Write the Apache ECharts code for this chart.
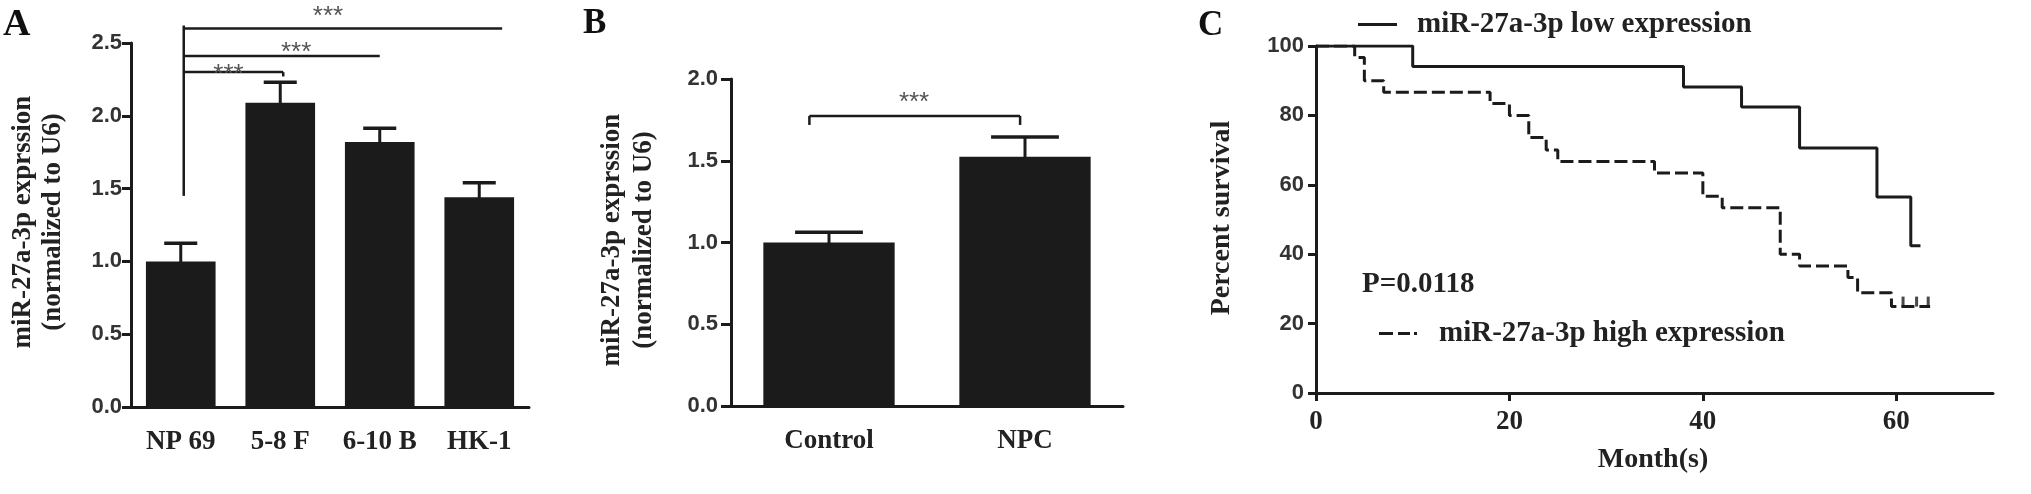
<!DOCTYPE html>
<html>
<head>
<meta charset="utf-8">
<title>miR-27a-3p expression and survival</title>
<script src="https://cdn.jsdelivr.net/npm/echarts@6.0.0/dist/echarts.min.js"></script>
<style>
  html, body { margin: 0; padding: 0; background: #fff; }
  #chart { width: 2031px; height: 494px; }
</style>
</head>
<body>
<div id="chart"></div>
<script>
// ---------- A: cell lines ----------
const cellLines = ['NP 69', '5-8 F', '6-10 B', 'HK-1']
const cellExpr = [1.0, 2.09, 1.82, 1.44]
const cellErr = [0.125, 0.14, 0.095, 0.10]
const cellTicks = [0, 0.5, 1.0, 1.5, 2.0, 2.5]
// significance brackets (x in category units, y in axis units)
const sigStart = 0.03
const sigStem = [1.45, 2.62]
const sigEnd = [1.03, 2.0, 3.23]
const sigLevel = [2.30, 2.41, 2.60]
const sigLabelX = [0.48, 1.16, 1.48]
const sigLabelY = [2.315, 2.466, 2.713]

// ---------- B: tissues ----------
const tissueGroups = ['Control', 'NPC']
const tissueExpr = [1.0, 1.525]
const tissueErr = [0.062, 0.12]
const tissueTicks = [0, 0.5, 1.0, 1.5, 2.0]
const tissueSig = [-0.1, 0.975, 1.774]   // from, to, level
const tissueSigLabel = [0.434, 1.884]

// ---------- C: survival ----------
const lowMonths = [0, 10, 38, 44, 50, 58, 61.5, 62.5]
const lowSurvival = [100, 94.1, 88.2, 82.4, 70.6, 56.5, 42.4, 42.4]
const highMonths = [0, 4, 5, 7, 18, 20, 22, 23.8, 25, 35, 40, 42, 48, 50, 55, 56, 59.5, 63.5]
const highSurvival = [100, 96.7, 90.0, 86.7, 83.4, 80.0, 73.6, 70.0, 66.7, 63.4, 56.7, 53.4, 40.0, 36.6, 33.3, 28.9, 24.9, 24.9]
const highCensorMonths = [60.7, 62.1, 63.3]
const monthTicks = [0, 20, 40, 60]
const survivalTicks = [0, 20, 40, 60, 80, 100]

const INK = '#1b1b1b'
const SERIF = '"Liberation Serif", "Times New Roman", serif'
const SANS = '"Liberation Sans", Arial, sans-serif'

const chartInstance = echarts.init(document.getElementById('chart'))

// x pixel for a fractional category position
const catX = (api, frac) => {
  const a = api.coord([0, 0])[0]
  const b = api.coord([1, 0])[0]
  return a + (b - a) * frac
}

const lineEl = (x1, y1, x2, y2, w) => ({
  type: 'line',
  shape: { x1, y1, x2, y2 },
  style: { stroke: INK, lineWidth: w || 3 }
})

const starsEl = (x, y) => ({
  type: 'text',
  style: {
    text: '***', x, y: y + 5, align: 'center', verticalAlign: 'middle',
    fill: '#555', font: '26px ' + SANS
  }
})

// error bars (only the upper half)
const errorBarSeries = (xIdx, yIdx, vals, errs, capRatio) => ({
  type: 'custom',
  xAxisIndex: xIdx,
  yAxisIndex: yIdx,
  z: 5,
  data: vals.map((v, i) => [i, v, errs[i]]),
  encode: { x: 0, y: 1 },
  renderItem: (params, api) => {
    const i = api.value(0)
    const v = api.value(1)
    const e = api.value(2)
    const base = api.coord([i, v])
    const top = api.coord([i, v + e])
    const half = api.size([1, 0])[0] * capRatio
    return {
      type: 'group',
      children: [
        lineEl(base[0], base[1] + 4, top[0], top[1]),
        lineEl(top[0] - half, top[1], top[0] + half, top[1], 3.5)
      ]
    }
  }
})

const axisLine = { show: true, lineStyle: { color: INK, width: 3 } }
const legendText = (pad) => ({
  color: '#222', fontFamily: SERIF, fontWeight: 'bold', fontSize: 29, padding: [0, 0, 0, pad]
})

const option = {
  animation: false,
  backgroundColor: '#fff',
  grid: [
    { left: 131, top: 43, width: 398, height: 364 },
    { left: 731, top: 79, width: 392, height: 327 },
    { left: 1316, top: 46, width: 677, height: 347 }
  ],
  xAxis: [
    {
      gridIndex: 0, type: 'category', data: cellLines,
      axisLine, axisTick: { alignWithLabel: true, length: 8, lineStyle: { color: INK, width: 3 } },
      axisLabel: { margin: 22, color: '#222', fontFamily: SERIF, fontWeight: 'bold', fontSize: 27 }
    },
    {
      gridIndex: 1, type: 'category', data: tissueGroups,
      axisLine, axisTick: { alignWithLabel: true, length: 8, lineStyle: { color: INK, width: 3 } },
      axisLabel: { margin: 22, color: '#222', fontFamily: SERIF, fontWeight: 'bold', fontSize: 27 }
    },
    {
      gridIndex: 2, type: 'value', min: 0, max: 70,
      axisLine, splitLine: { show: false },
      axisTick: { customValues: monthTicks, length: 8, lineStyle: { color: INK, width: 3 } },
      axisLabel: { customValues: monthTicks, margin: 16, color: '#222', fontFamily: SERIF, fontWeight: 'bold', fontSize: 27 }
    }
  ],
  yAxis: [
    {
      gridIndex: 0, type: 'value',
      min: cellTicks[0], max: cellTicks[cellTicks.length - 1], interval: cellTicks[1] - cellTicks[0],
      axisLine, splitLine: { show: false },
      axisTick: { show: true, length: 9, lineStyle: { color: INK, width: 3 } },
      axisLabel: { margin: 9, color: '#333', fontFamily: SANS, fontWeight: 'bold', fontSize: 22, formatter: v => v.toFixed(1) }
    },
    {
      gridIndex: 1, type: 'value',
      min: tissueTicks[0], max: tissueTicks[tissueTicks.length - 1], interval: tissueTicks[1] - tissueTicks[0],
      axisLine, splitLine: { show: false },
      axisTick: { show: true, length: 10, lineStyle: { color: INK, width: 3 } },
      axisLabel: { margin: 13, color: '#333', fontFamily: SANS, fontWeight: 'bold', fontSize: 22, formatter: v => v.toFixed(1) }
    },
    {
      gridIndex: 2, type: 'value',
      min: survivalTicks[0], max: survivalTicks[survivalTicks.length - 1], interval: survivalTicks[1] - survivalTicks[0],
      axisLine, splitLine: { show: false },
      axisTick: { show: true, length: 8, lineStyle: { color: INK, width: 3 } },
      axisLabel: { margin: 12, color: '#333', fontFamily: SANS, fontWeight: 'bold', fontSize: 22 }
    }
  ],
  legend: [
    {
      data: [{ name: 'miR-27a-3p low expression', icon: 'path://M0,0h39v3h-39z' }],
      left: 1353, top: 5, selectedMode: false,
      itemWidth: 39, itemHeight: 3,
      textStyle: legendText(15)
    },
    {
      data: [{ name: 'miR-27a-3p high expression', icon: 'path://M0,0h14v3h-14z M19,0h12v3h-12z M35,0h3v3h-3z' }],
      left: 1374, top: 314, selectedMode: false,
      itemWidth: 38, itemHeight: 3,
      textStyle: legendText(17)
    }
  ],
  graphic: [
    { type: 'text', left: 3, top: 6, style: { text: 'A', fill: '#111', font: 'bold 38px ' + SERIF } },
    { type: 'text', left: 583, top: 6, style: { text: 'B', fill: '#111', font: 'bold 35px ' + SERIF } },
    { type: 'text', left: 1198, top: 8, style: { text: 'C', fill: '#111', font: 'bold 35px ' + SERIF } },
    {
      type: 'text', x: 38, y: 222, rotation: Math.PI / 2,
      style: {
        text: 'miR-27a-3p exprssion\n(normalized to U6)', align: 'center', verticalAlign: 'middle',
        lineHeight: 30, fill: '#222', font: 'bold 27px ' + SERIF
      }
    },
    {
      type: 'text', x: 628, y: 240, rotation: Math.PI / 2,
      style: {
        text: 'miR-27a-3p exprssion\n(normalized to U6)', align: 'center', verticalAlign: 'middle',
        lineHeight: 32, fill: '#222', font: 'bold 27px ' + SERIF
      }
    },
    {
      type: 'text', x: 1222, y: 218, rotation: Math.PI / 2,
      style: { text: 'Percent survival', align: 'center', verticalAlign: 'middle', fill: '#222', font: 'bold 28px ' + SERIF }
    },
    {
      type: 'text', x: 1653, y: 460,
      style: { text: 'Month(s)', align: 'center', verticalAlign: 'middle', fill: '#222', font: 'bold 28px ' + SERIF }
    },
    {
      type: 'text', x: 1362, y: 285,
      style: { text: 'P=0.0118', align: 'left', verticalAlign: 'middle', fill: '#222', font: 'bold 29px ' + SERIF }
    }
  ],
  series: [
    // A bars
    {
      type: 'bar', xAxisIndex: 0, yAxisIndex: 0, data: cellExpr,
      barWidth: '70%', itemStyle: { color: INK }
    },
    errorBarSeries(0, 0, cellExpr, cellErr, 0.166),
    // A significance brackets
    {
      type: 'custom', xAxisIndex: 0, yAxisIndex: 0, z: 6,
      data: sigLevel.map((lv, i) => [0, lv]),
      encode: { x: 0, y: 1 },
      renderItem: (params, api) => {
        const i = params.dataIndex
        const y = api.coord([0, sigLevel[i]])[1]
        const x0 = catX(api, sigStart)
        const x1 = catX(api, sigEnd[i])
        const children = [lineEl(x0, y, x1, y, 2.5)]
        if (i === 0) {
          // short drop at the 5-8 F end, and the common stem above NP 69
          children.push(lineEl(x1, y, x1, api.coord([0, sigLevel[i] - 0.03])[1], 2.5))
          children.push(lineEl(x0, api.coord([0, sigStem[0]])[1], x0, api.coord([0, sigStem[1]])[1], 2.5))
        }
        children.push(starsEl(catX(api, sigLabelX[i]), api.coord([0, sigLabelY[i]])[1]))
        return { type: 'group', children }
      }
    },
    // B bars
    {
      type: 'bar', xAxisIndex: 1, yAxisIndex: 1, data: tissueExpr,
      barWidth: '67%', itemStyle: { color: INK }
    },
    errorBarSeries(1, 1, tissueExpr, tissueErr, 0.173),
    {
      type: 'custom', xAxisIndex: 1, yAxisIndex: 1, z: 6,
      data: [[0, tissueSig[2]]],
      encode: { x: 0, y: 1 },
      renderItem: (params, api) => {
        const y = api.coord([0, tissueSig[2]])[1]
        const yd = api.coord([0, tissueSig[2] - 0.055])[1]
        const x0 = catX(api, tissueSig[0])
        const x1 = catX(api, tissueSig[1])
        return {
          type: 'group',
          children: [
            lineEl(x0, y, x1, y, 2.5),
            lineEl(x0, y, x0, yd, 2.5),
            lineEl(x1, y, x1, yd, 2.5),
            starsEl(catX(api, tissueSigLabel[0]), api.coord([0, tissueSigLabel[1]])[1])
          ]
        }
      }
    },
    // C survival curves
    {
      name: 'miR-27a-3p low expression',
      type: 'line', xAxisIndex: 2, yAxisIndex: 2, step: 'end',
      symbol: 'none',
      data: lowMonths.map((m, i) => [m, lowSurvival[i]]),
      lineStyle: { color: INK, width: 3 },
      itemStyle: { color: INK }
    },
    {
      name: 'miR-27a-3p high expression',
      type: 'line', xAxisIndex: 2, yAxisIndex: 2, step: 'end',
      symbol: 'none',
      data: highMonths.map((m, i) => [m, highSurvival[i]]),
      lineStyle: { color: INK, width: 3, type: [13, 5] },
      itemStyle: { color: INK }
    },
    {
      // censor ticks on the high-expression curve
      type: 'scatter', xAxisIndex: 2, yAxisIndex: 2,
      symbol: 'rect', symbolSize: [3, 10], symbolOffset: [0, -5],
      data: highCensorMonths.map(m => [m, highSurvival[highSurvival.length - 1]]),
      itemStyle: { color: INK }
    }
  ]
}

chartInstance.setOption(option)

window.addEventListener('resize', () => {
  chartInstance.resize()
})
</script>
</body>
</html>
